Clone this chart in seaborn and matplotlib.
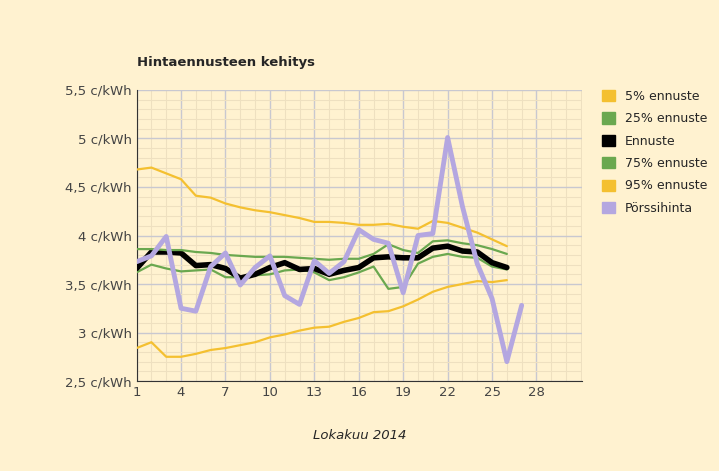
import matplotlib
matplotlib.use("Agg")
import matplotlib.pyplot as plt
from matplotlib.patches import Patch
import seaborn as sns
import pandas as pd

days = list(range(1, 27))
p95 = [4.68, 4.70, 4.64, 4.58, 4.41, 4.39, 4.33, 4.29, 4.26, 4.24, 4.21, 4.18, 4.14,
       4.14, 4.13, 4.11, 4.11, 4.12, 4.09, 4.07, 4.15, 4.13, 4.08, 4.03, 3.96, 3.89]
p5 = [2.84, 2.90, 2.75, 2.75, 2.78, 2.82, 2.84, 2.87, 2.90, 2.95, 2.98, 3.02, 3.05,
      3.06, 3.11, 3.15, 3.21, 3.22, 3.27, 3.34, 3.42, 3.47, 3.50, 3.53, 3.52, 3.54]
p75 = [3.86, 3.86, 3.85, 3.85, 3.83, 3.82, 3.80, 3.79, 3.78, 3.78, 3.78, 3.77, 3.76,
       3.75, 3.76, 3.76, 3.81, 3.91, 3.85, 3.82, 3.94, 3.95, 3.92, 3.90, 3.86, 3.81]
p25 = [3.62, 3.70, 3.66, 3.63, 3.64, 3.65, 3.57, 3.57, 3.59, 3.60, 3.64, 3.65, 3.62,
       3.54, 3.57, 3.62, 3.68, 3.45, 3.47, 3.71, 3.78, 3.81, 3.78, 3.77, 3.68, 3.65]
ennuste = [3.66, 3.83, 3.83, 3.82, 3.69, 3.70, 3.66, 3.56, 3.60, 3.67, 3.72, 3.65, 3.66,
           3.60, 3.64, 3.67, 3.77, 3.78, 3.77, 3.77, 3.87, 3.89, 3.84, 3.83, 3.72, 3.67]
spot_days = list(range(1, 28))
porssi = [3.73, 3.79, 3.99, 3.25, 3.22, 3.68, 3.82, 3.49, 3.67, 3.79, 3.38, 3.29, 3.74, 3.61,
          3.73, 4.06, 3.96, 3.92, 3.41, 4.00, 4.02, 5.01, 4.30, 3.71, 3.35, 2.70, 3.28]

bg = "#fff2d0"
yellow = "#f4c030"
green = "#6aa84f"
purple = "#b4a7e0"

sns.set_style("white")
fig = plt.figure(figsize=(7.19, 4.71), dpi=100, facecolor=bg)
ax = fig.add_axes([0.19, 0.191, 0.62, 0.618], facecolor=bg)

series = [("5% ennuste", days, p5, yellow, 1.6),
          ("25% ennuste", days, p25, green, 1.6),
          ("Ennuste", days, ennuste, "black", 4),
          ("75% ennuste", days, p75, green, 1.6),
          ("95% ennuste", days, p95, yellow, 1.6),
          ("Pörssihinta", spot_days, porssi, purple, 3.5)]
for name, x, y, c, lw in series:
    sns.lineplot(x=x, y=y, color=c, linewidth=lw, ax=ax, zorder=3)

ax.set_xlim(1, 31.1)
ax.set_ylim(2.5, 5.5)
ax.set_xticks(range(1, 29, 3))
ax.set_xticks(range(1, 32), minor=True)
ax.set_yticks([2.5 + 0.5 * i for i in range(7)])
ax.set_yticks([2.5 + 0.1 * i for i in range(31)], minor=True)
ax.set_yticklabels([f"{v:.1f}".replace(".", ",").replace(",0", "") + " c/kWh" for v in ax.get_yticks()])
ax.grid(which="major", color="#c8c8d0", linewidth=1)
ax.grid(which="minor", color="#eee0c0", linewidth=0.8)
ax.tick_params(which="both", length=0, labelsize=9.5, colors="#444444")
for s in ["top", "right"]:
    ax.spines[s].set_visible(False)
for s in ["left", "bottom"]:
    ax.spines[s].set_color("#333333")

ax.set_xlabel("Lokakuu 2014", fontstyle="italic", fontsize=9.5, labelpad=22)
fig.text(0.19, 0.86, "Hintaennusteen kehitys", fontweight="bold", fontsize=9.5)

handles = [Patch(color=c, label=n) for n, _, _, c, _ in series]
fig.legend(handles=handles, loc="upper left", bbox_to_anchor=(0.822, 0.833),
           frameon=False, fontsize=9, handlelength=1, handleheight=1, labelspacing=0.75)

fig.savefig("out.png", dpi=100, facecolor=bg)
